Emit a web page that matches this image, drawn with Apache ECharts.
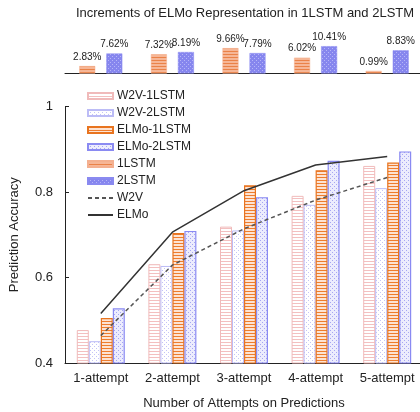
<!DOCTYPE html>
<html>
<head>
<meta charset="utf-8">
<script src="https://cdn.jsdelivr.net/npm/echarts@6/dist/echarts.min.js"></script>
<style>html,body{margin:0;padding:0;background:#fff}#c{width:420px;height:412px}</style>
</head>
<body>
<div id="c"></div>
<script>
var categories = ['1-attempt', '2-attempt', '3-attempt', '4-attempt', '5-attempt'];
var w2v1lstm = [0.477, 0.631, 0.719, 0.791, 0.861];
var w2v2lstm = [0.451, 0.627, 0.710, 0.770, 0.809];
var elmo1lstm = [0.505, 0.704, 0.816, 0.851, 0.869];
var elmo2lstm = [0.528, 0.709, 0.788, 0.873, 0.895];
var w2vLine = [0.464, 0.629, 0.714, 0.781, 0.834];
var elmoLine = [0.516, 0.706, 0.803, 0.863, 0.883];
var inc1lstm = [2.83, 7.32, 9.66, 6.02, 0.99];
var inc2lstm = [7.62, 8.19, 7.79, 10.41, 8.83];
var yTicks = [0.4, 0.6, 0.8, 1];

function pat(w, h, bg, fg, kind) {
  var c = document.createElement('canvas');
  c.width = w; c.height = h;
  var g = c.getContext('2d');
  g.fillStyle = bg; g.fillRect(0, 0, w, h);
  g.fillStyle = fg;
  if (kind === 'h') { g.fillRect(0, 0, w, 1); }
  else { g.fillRect(0, 0, 1, 1); g.fillRect(2, 2, 1, 1); }
  return { image: c, repeat: 'repeat' };
}

var FONT = 'Liberation Sans, Arial, sans-serif';
var chart = echarts.init(document.getElementById('c'), null, { renderer: 'canvas' });

var styles = {
  w2v1: { color: pat(4, 3, '#ffffff', '#f3c0c0', 'h'), borderColor: '#f0baba', borderWidth: 1 },
  w2v2: { color: pat(4, 4, '#ffffff', '#c4c4f6', 'd'), borderColor: '#bcbcf6', borderWidth: 1 },
  elmo1: { color: pat(4, 3, '#fde3d2', '#ee7d2e', 'h'), borderColor: '#e8741f', borderWidth: 1.2 },
  elmo2: { color: pat(4, 4, '#ececfd', '#a6a6f2', 'd'), borderColor: '#8a8af2', borderWidth: 1.2 },
  l1: { color: pat(4, 3, '#f6b696', '#ea8248', 'h'), borderColor: '#f4b090', borderWidth: 0.5 },
  l2: { color: pat(4, 4, '#8686ee', '#b6b6f8', 'd'), borderColor: '#8a8af0', borderWidth: 0.5 }
};

var option = {
  animation: false,
  textStyle: { fontFamily: FONT },
  graphic: [{
    type: 'text', x: 245, y: 13,
    style: { text: 'Increments of ELMo Representation in 1LSTM and 2LSTM', font: '13px ' + FONT, fill: '#222', align: 'center', verticalAlign: 'middle' }
  }],
  legend: {
    orient: 'vertical', left: 82, top: 85,
    itemWidth: 25, itemHeight: 6, itemGap: 5,
    textStyle: { fontSize: 12, color: '#222', fontFamily: FONT, padding: [0, 0, 0, -1] },
    data: [
      { name: 'W2V-1LSTM', icon: 'rect' },
      { name: 'W2V-2LSTM', icon: 'rect' },
      { name: 'ELMo-1LSTM', icon: 'rect' },
      { name: 'ELMo-2LSTM', icon: 'rect' },
      { name: '1LSTM', icon: 'rect' },
      { name: '2LSTM', icon: 'rect' },
      { name: 'W2V', itemStyle: { opacity: 0 } },
      { name: 'ELMo', itemStyle: { opacity: 0 } }
    ]
  },
  grid: [
    { left: 65, right: -3, top: 106.5, bottom: 49, outerBoundsMode: 'none', containLabel: false },
    { left: 65, right: -3, top: 42, height: 31.5, outerBoundsMode: 'none', containLabel: false }
  ],
  xAxis: [
    {
      type: 'category', data: categories, gridIndex: 0,
      axisLine: { lineStyle: { color: '#222', width: 1 } },
      axisTick: { inside: true, length: 4, lineStyle: { color: '#222' } },
      axisLabel: { interval: 0, fontSize: 13, color: '#222', margin: 9, fontFamily: FONT },
      name: 'Number of Attempts on Predictions', nameLocation: 'middle', nameGap: 34,
      nameTextStyle: { fontSize: 13, color: '#222', fontFamily: FONT }
    },
    {
      type: 'category', data: categories, gridIndex: 1,
      axisLine: { lineStyle: { color: '#222', width: 1 } },
      axisTick: { inside: false, length: 4, lineStyle: { color: '#222' } },
      axisLabel: { show: false }
    }
  ],
  yAxis: [
    {
      type: 'value', gridIndex: 0, min: 0.4, max: 1, interval: 0.2,
      axisLine: { show: true, lineStyle: { color: '#222', width: 1 } },
      axisTick: { show: true, inside: true, length: 4, lineStyle: { color: '#222' } },
      splitLine: { show: false },
      axisLabel: {
        fontSize: 13, color: '#222', margin: 12, fontFamily: FONT,
        formatter: function (v) { for (var i = 0; i < yTicks.length; i++) { if (Math.abs(v - yTicks[i]) < 1e-6) return String(yTicks[i]); } return ''; }
      },
      name: 'Prediction Accuracy', nameLocation: 'middle', nameGap: 44,
      nameTextStyle: { fontSize: 13, color: '#222', fontFamily: FONT }
    },
    {
      type: 'value', gridIndex: 1, min: 0, max: 12, show: false,
      splitLine: { show: false }
    }
  ],
  series: [
    { name: 'W2V-1LSTM', type: 'bar', xAxisIndex: 0, yAxisIndex: 0, data: w2v1lstm, barWidth: 12, barGap: '0%', itemStyle: styles.w2v1 },
    { name: 'W2V-2LSTM', type: 'bar', xAxisIndex: 0, yAxisIndex: 0, data: w2v2lstm, barWidth: 12, barGap: '0%', itemStyle: styles.w2v2 },
    { name: 'ELMo-1LSTM', type: 'bar', xAxisIndex: 0, yAxisIndex: 0, data: elmo1lstm, barWidth: 12, barGap: '0%', itemStyle: styles.elmo1 },
    { name: 'ELMo-2LSTM', type: 'bar', xAxisIndex: 0, yAxisIndex: 0, data: elmo2lstm, barWidth: 12, barGap: '0%', itemStyle: styles.elmo2 },
    {
      name: '1LSTM', type: 'bar', xAxisIndex: 1, yAxisIndex: 1, data: inc1lstm, barWidth: 16, barGap: '69%', itemStyle: styles.l1,
      label: { show: true, position: 'top', distance: 4, formatter: '{c}%', fontSize: 10, color: '#222', fontFamily: FONT }
    },
    {
      name: '2LSTM', type: 'bar', xAxisIndex: 1, yAxisIndex: 1, data: inc2lstm, barWidth: 16, barGap: '69%', itemStyle: styles.l2,
      label: { show: true, position: 'top', distance: 4, formatter: '{c}%', fontSize: 10, color: '#222', fontFamily: FONT }
    },
    {
      name: 'W2V', type: 'line', xAxisIndex: 0, yAxisIndex: 0, data: w2vLine, symbol: 'none', z: 5,
      itemStyle: { color: '#555' },
      lineStyle: { color: '#555', width: 1.5, type: [4, 3] }
    },
    {
      name: 'ELMo', type: 'line', xAxisIndex: 0, yAxisIndex: 0, data: elmoLine, symbol: 'none', z: 5,
      itemStyle: { color: '#333' },
      lineStyle: { color: '#333', width: 1.5 }
    }
  ]
};
chart.setOption(option);
</script>
</body>
</html>
